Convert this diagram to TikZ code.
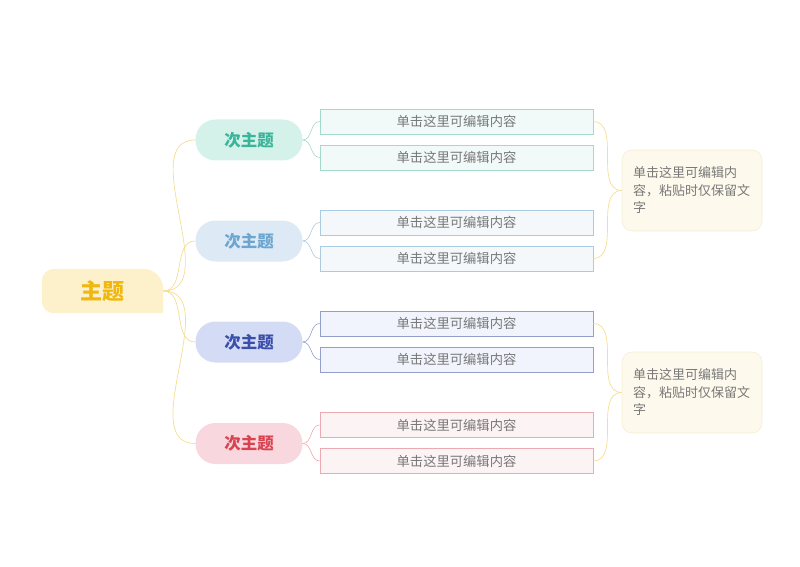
\documentclass[tikz,border=0pt]{standalone}
\usepackage{fontspec}
\setmainfont{Noto Sans CJK SC}
\usepackage{tikz}
\usetikzlibrary{calc, backgrounds}

\definecolor{topicFill}{HTML}{FDF1CC}
\definecolor{topicText}{HTML}{F0B70F}
\definecolor{topicLink}{HTML}{F5DD92}
\definecolor{tealFill}{HTML}{D4F1EA}
\definecolor{tealText}{HTML}{3AB59A}
\definecolor{tealLine}{HTML}{A3DACD}
\definecolor{tealLeaf}{HTML}{F1FAF8}
\definecolor{skyFill}{HTML}{DDEAF5}
\definecolor{skyText}{HTML}{6CA5D0}
\definecolor{skyLine}{HTML}{ADCBE0}
\definecolor{skyLeaf}{HTML}{F4F8FB}
\definecolor{lavFill}{HTML}{D4DCF5}
\definecolor{lavText}{HTML}{3B4FAA}
\definecolor{lavLine}{HTML}{959FCC}
\definecolor{lavLeaf}{HTML}{F1F4FC}
\definecolor{roseFill}{HTML}{F8D8DE}
\definecolor{roseText}{HTML}{D8434F}
\definecolor{roseLine}{HTML}{EBA9B2}
\definecolor{roseLeaf}{HTML}{FCF3F5}
\definecolor{noteFill}{HTML}{FDF9EC}
\definecolor{noteLine}{HTML}{F5EDD5}
\definecolor{leafText}{HTML}{787878}

\tikzset{
  topic/.style={font=\fontsize{22}{26}\selectfont\bfseries, text=topicText,
    minimum width=121pt, minimum height=44pt, inner sep=0pt},
  subtopic/.style={font=\fontsize{16.5}{20}\selectfont\bfseries, rounded corners=20pt,
    minimum width=107pt, minimum height=41pt, inner sep=0pt},
  leaf/.style={draw, line width=0.6pt, font=\fontsize{13.3}{16}\selectfont, text=leafText,
    minimum width=273pt, minimum height=25pt, inner sep=0pt},
  note/.style={draw=noteLine, fill=noteFill, rounded corners=10pt, line width=0.6pt,
    font=\fontsize{13}{17.5}\selectfont, text=leafText, align=left,
    text width=118pt, inner xsep=11pt, minimum height=81pt},
  mainlink/.style={draw=topicLink, line width=0.7pt},
  bracelink/.style={draw=topicLink, line width=0.7pt},
}

\begin{document}
\begin{tikzpicture}[x=1pt, y=1pt]
\useasboundingbox (0,0) rectangle (800,566);
% Central topic
\node[topic] (main) at (102.5,275) {主题};
\begin{scope}[on background layer]
  \fill[topicFill] (main.south east) [rounded corners=12pt] -- (main.south west)
    -- (main.north west) [rounded corners=20pt] -- (main.north east)
    [sharp corners] -- cycle;
\end{scope}
% Subtopics and their leaves
\foreach \i/\yy/\col in {1/426/teal, 2/325/sky, 3/224/lav, 4/122.5/rose} {
  \node[subtopic, fill=\col Fill, text=\col Text] (s\i) at (249,\yy) {次主题};
  \node[leaf, draw=\col Line, fill=\col Leaf] (l\i a) at (456.5,\yy+18.5) {单击这里可编辑内容};
  \node[leaf, draw=\col Line, fill=\col Leaf] (l\i b) at (456.5,\yy-17.5) {单击这里可编辑内容};
  \draw[mainlink] (main.east) to[out=0, in=180] (s\i.west);
  \draw[\col Line, line width=0.6pt] (s\i.east) to[out=0, in=180] (l\i a.west);
  \draw[\col Line, line width=0.6pt] (s\i.east) to[out=0, in=180] (l\i b.west);
}
% Summaries
\node[note] (n1) at (692,375.5) {单击这里可编辑内\\容，粘贴时仅保留文\\字};
\node[note] (n2) at (692,173.5) {单击这里可编辑内\\容，粘贴时仅保留文\\字};
% Braces
\draw[bracelink] (l1a.east) to[out=0, in=90] ($(l1a.east)!0.5!(n1.west)$)
  to[out=-90, in=180] (n1.west);
\draw[bracelink] (l2b.east) to[out=0, in=-90] ($(l2b.east)!0.5!(n1.west)$)
  to[out=90, in=180] (n1.west);
\draw[bracelink] (l3a.east) to[out=0, in=90] ($(l3a.east)!0.5!(n2.west)$)
  to[out=-90, in=180] (n2.west);
\draw[bracelink] (l4b.east) to[out=0, in=-90] ($(l4b.east)!0.5!(n2.west)$)
  to[out=90, in=180] (n2.west);
\end{tikzpicture}
\end{document}
